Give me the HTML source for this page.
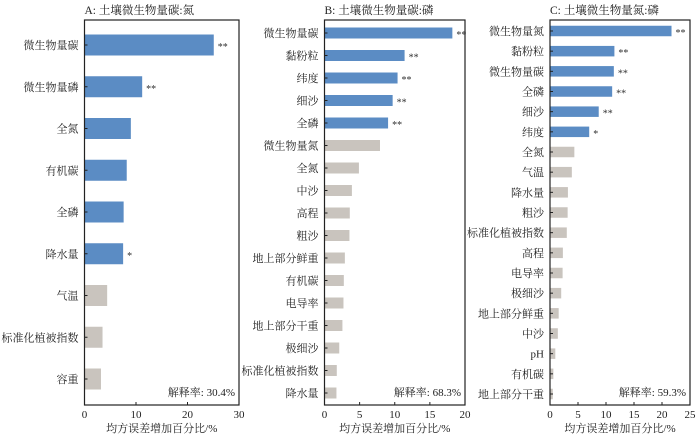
<!DOCTYPE html>
<html><head><meta charset="utf-8">
<style>
html,body{margin:0;padding:0;background:#fff;}
svg{display:block;font-family:"Liberation Serif","Noto Serif CJK SC",serif;}
</style></head>
<body>
<svg id="chart" width="700" height="437" viewBox="0 0 700 437" xmlns="http://www.w3.org/2000/svg"></svg>
<script>
const catsA = ["微生物量碳","微生物量磷","全氮","有机碳","全磷","降水量","气温","标准化植被指数","容重"];
const valsA = [25.1,11.2,9.0,8.2,7.6,7.5,4.4,3.5,3.2];
const sigA = ["**","**","","","","*","","",""];
const blueA = [1,1,1,1,1,1,0,0,0];
const ticksA = [0,10,20,30];

const catsB = ["微生物量碳","黏粉粒","纬度","细沙","全磷","微生物量氮","全氮","中沙","高程","粗沙","地上部分鲜重","有机碳","电导率","地上部分干重","极细沙","标准化植被指数","降水量"];
const valsB = [18.2,11.4,10.4,9.7,9.05,7.9,4.9,3.9,3.6,3.55,2.9,2.75,2.7,2.55,2.1,1.75,1.7];
const sigB = ["**","**","**","**","**","","","","","","","","","","","",""];
const blueB = [1,1,1,1,1,0,0,0,0,0,0,0,0,0,0,0,0];
const ticksB = [0,5,10,15,20];

const catsC = ["微生物量氮","黏粉粒","微生物量碳","全磷","细沙","纬度","全氮","气温","降水量","粗沙","标准化植被指数","高程","电导率","极细沙","地上部分鲜重","中沙","pH","有机碳","地上部分干重"];
const valsC = [21.7,11.5,11.4,11.1,8.7,7.0,4.35,3.9,3.2,3.15,3.0,2.3,2.25,2.0,1.55,1.4,0.95,0.6,0.5];
const sigC = ["**","**","**","**","**","*","","","","","","","","","","","","",""];
const blueC = [1,1,1,1,1,1,0,0,0,0,0,0,0,0,0,0,0,0,0];
const ticksC = [0,5,10,15,20,25];

const NS="http://www.w3.org/2000/svg";
const svg=document.getElementById('chart');
function mk(tag,attrs,parent){const e=document.createElementNS(NS,tag);for(const k in attrs)e.setAttribute(k,attrs[k]);(parent||svg).appendChild(e);return e;}

function panel(id,title,cats,vals,sig,blue,ticks,x0,x1,yTop,yBot,c0,c1,bh,expl){
  const g=mk('g',{});
  
  
  const max=ticks[ticks.length-1];
  const xs=v=>x0+(v/max)*(x1-x0);
  const ys=i=>c0+(cats.length>1?i*(c1-c0)/(cats.length-1):0);
  const t=mk('text',{x:x0,y:14,'font-size':11.5,fill:'#222'},g);t.textContent=title;
  
  
  cats.forEach((c,i)=>{
    const r=mk('rect',{x:x0,y:ys(i)-bh/2,width:xs(vals[i])-x0,height:bh,fill:blue[i]?'#5b8cc4':'#c9c4be'},g);
    
    
    const l=mk('text',{x:x0-6,y:ys(i)+4,'font-size':11,'text-anchor':'end',fill:'#222'},g);l.textContent=c;
    
    
    mk('line',{x1:x0,x2:x0+3,y1:ys(i),y2:ys(i),stroke:'#222','stroke-width':1},g);
    if(sig[i]!==""){const s=mk('text',{x:xs(vals[i])+4,y:ys(i)+5,'font-size':10,fill:'#333'},g);s.textContent=sig[i];
      
      }
  });
  const f=mk('rect',{x:x0,y:yTop,width:x1-x0,height:yBot-yTop,fill:'none',stroke:'#222','stroke-width':1.2},g);
  
  
  ticks.forEach(tv=>{
    mk('line',{x1:xs(tv),x2:xs(tv),y1:yBot,y2:yBot-3,stroke:'#222'},g);
    const tl=mk('text',{x:xs(tv),y:418,'font-size':11,'text-anchor':'middle',fill:'#222'},g);tl.textContent=tv;
    
    
  });
  const at=mk('text',{x:(x0+x1)/2,y:432,'font-size':11,'text-anchor':'middle',fill:'#222'},g);at.textContent='均方误差增加百分比/%';
  
  
  const ex=mk('text',{x:x1-4,y:396,'font-size':11,'text-anchor':'end',fill:'#222'},g);ex.textContent='解释率: '+expl;
  
  
}
panel('a','A: 土壤微生物量碳:氮',catsA,valsA,sigA,blueA,ticksA,84.5,239,20,405,45,379,21,'30.4%');
panel('b','B: 土壤微生物量碳:磷',catsB,valsB,sigB,blueB,ticksB,324.5,465,20,405,33,393,11,'68.3%');
panel('c','C: 土壤微生物量氮:磷',catsC,valsC,sigC,blueC,ticksC,550,690,20,405,31,394,10.5,'59.3%');
</script>
</body></html>
